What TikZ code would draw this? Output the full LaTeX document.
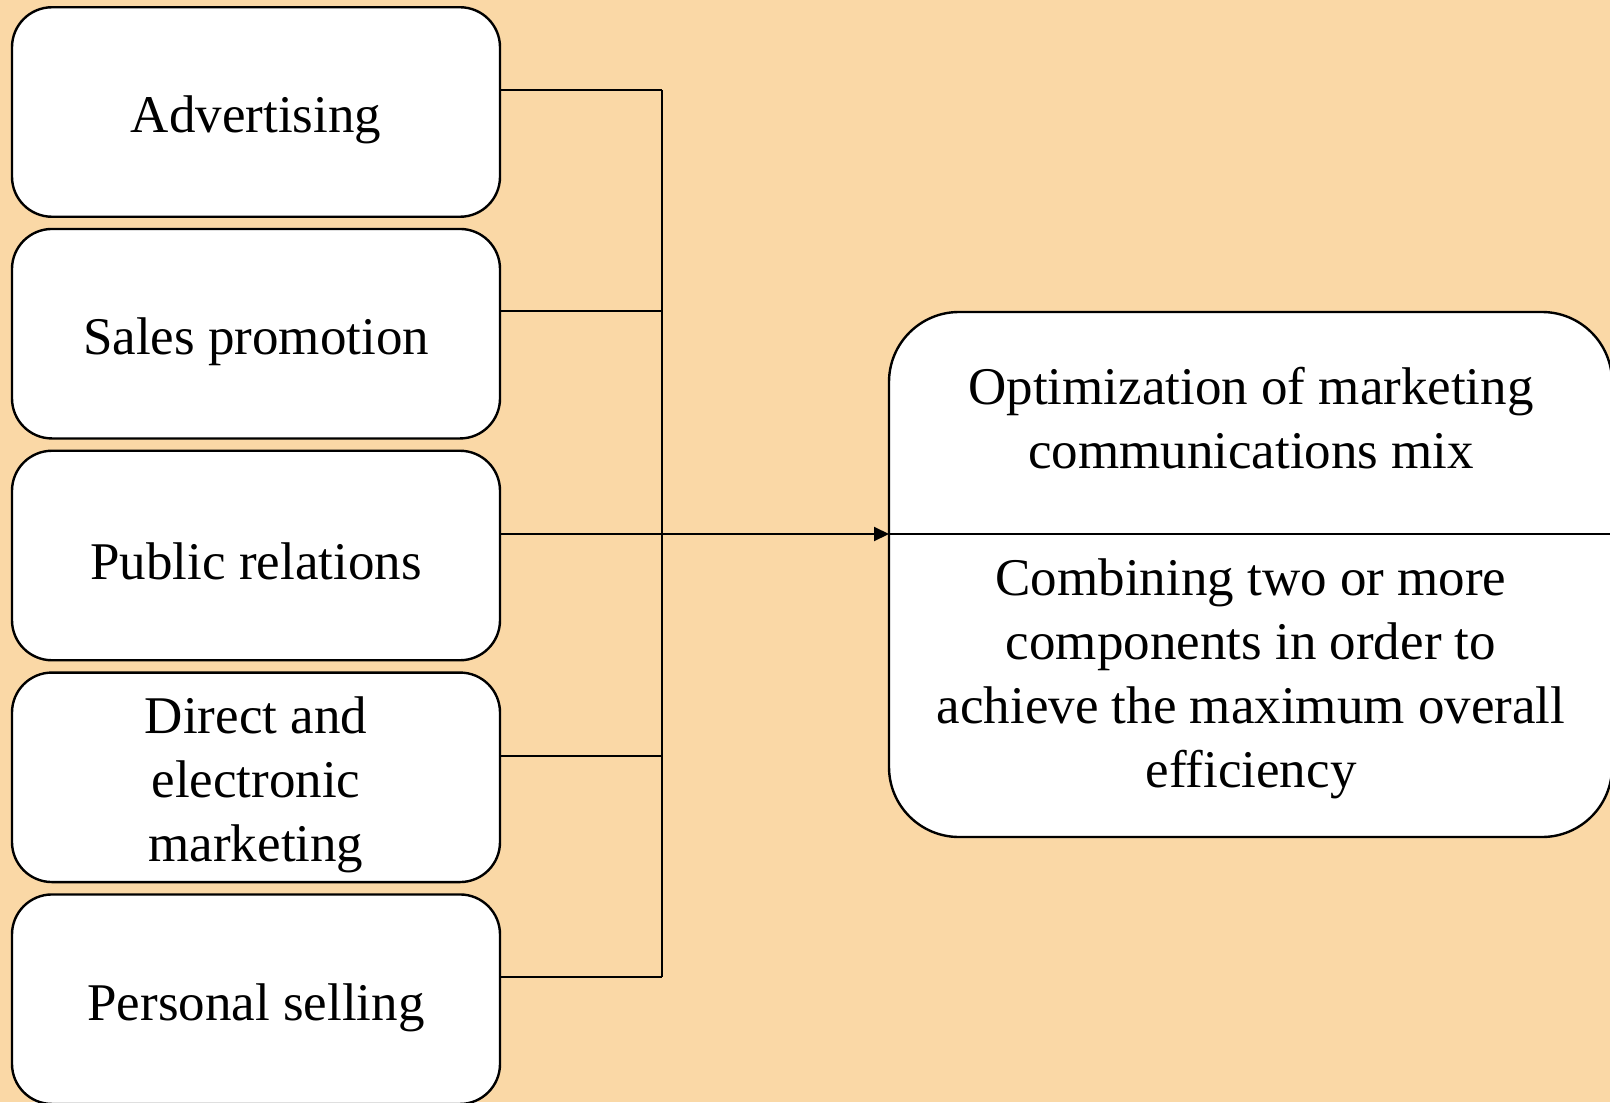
\documentclass[tikz,border=0pt]{standalone}
\usepackage{fontspec}
\setmainfont{Liberation Serif}
\usetikzlibrary{arrows.meta}
\definecolor{bgwood}{RGB}{250,216,166}
\begin{document}
\begin{tikzpicture}[x=0.5pt,y=-0.5pt,
  box/.style={draw=black, fill=white, line width=1.2pt, rounded corners=20pt,
    minimum width=244pt, minimum height=104.75pt, inner sep=0pt, outer sep=0pt},
  rbox/.style={draw=black, fill=white, line width=1.2pt, rounded corners=35pt,
    minimum width=361.5pt, minimum height=262.5pt, inner sep=0pt, outer sep=0pt},
  txt/.style={align=center, inner sep=0pt, font=\fontsize{26.5}{32}\selectfont},
  conn/.style={draw=black, line width=1pt}]
\fill[bgwood] (0,0) rectangle (1610,1102);
\useasboundingbox (0,0) rectangle (1610,1102);
\clip (0,0) rectangle (1610,1102);
% left boxes
\node[box] (b1) at (256,112) {};
\node[box] (b2) at (256,333.7) {};
\node[box] (b3) at (256,555.5) {};
\node[box] (b4) at (256,777.3) {};
\node[box] (b5) at (256,999.2) {};
\node[txt] (t1) at (256,120) {Advertising};
\node[txt] (t2) at (256,341.7) {Sales promotion};
\node[txt] (t3) at (256,561.5) {Public relations};
\node[txt] (t4) at (256,785.3) {Direct and\\electronic\\marketing};
\node[txt] (t5) at (256,1008) {Personal selling};
% right box
\node[rbox] (r) at (1250.5,574.5) {};
\node[txt] (rt) at (1251,418) {Optimization of marketing\\communications mix};
\node[txt] (rb) at (1251,679) {Combining two or more\\components in order to\\achieve the maximum overall\\efficiency};
% junctions
\coordinate (j1) at (662,90);
\coordinate (j2) at (662,311);
\coordinate (j3) at (662,534);
\coordinate (j4) at (662,756);
\coordinate (j5) at (662,977);
\draw[line width=1pt] (r.west |- j3) -- (r.east |- j3);
\draw[conn] (b1.east |- j1) -- (j1);
\draw[conn] (b2.east |- j2) -- (j2);
\draw[conn] (b4.east |- j4) -- (j4);
\draw[conn] (b5.east |- j5) -- (j5);
\draw[conn] (j1) -- (j5);
\draw[conn,-{Triangle[length=7.5pt,width=7pt]}] (b3.east |- j3) -- (r.west |- j3);
\end{tikzpicture}
\end{document}
